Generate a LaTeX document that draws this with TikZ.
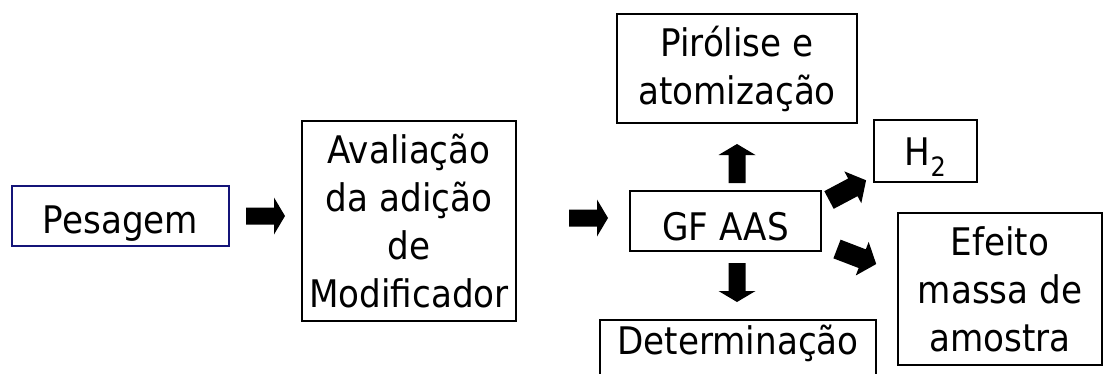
\documentclass[tikz,border=0pt]{standalone}
\usepackage{fontspec}
\setmainfont{DejaVu Sans}[FakeStretch=0.9]
\usepackage{tikz}

\definecolor{boxblue}{RGB}{20,20,120}

\tikzset{
  box/.style={draw, line width=1.3pt, inner sep=0pt, align=center},
  oneline/.style={text height=#1, text depth=0pt},
  fatarrow/.pic={\fill (0,-8.5) -- (28,-8.5) -- (28,-18.5) -- (39,0) -- (28,18.5) -- (28,8.5) -- (0,8.5) -- cycle;},
  fatarrowbig/.pic={\fill (0,-10) -- (27,-10) -- (27,-18) -- (42,0) -- (27,18) -- (27,10) -- (0,10) -- cycle;}
}

\begin{document}
\begin{tikzpicture}[x=1pt, y=-1pt, font=\fontsize{38}{48}\selectfont]
  \useasboundingbox (0,0) rectangle (1106,373);

  % Boxes
  \node[box, oneline=34pt, draw=boxblue, minimum width=217pt, minimum height=60pt] (pesagem) at (120.5,216) {Pesagem};
  \node[box, minimum width=214pt, minimum height=200pt] (avaliacao) at (409,221) {Avaliação\\da adição\\de\\Modificador};
  \node[box, oneline=38pt, minimum width=191pt, minimum height=60pt] (gfaas) at (725.5,221) {GF AAS};
  \node[box, minimum width=240pt, minimum height=109pt] (pirolise) at (737,68.5) {Pirólise e\\atomização};
  \node[box, oneline=28pt, minimum width=103pt, minimum height=62pt] (htwo) at (925.5,151) {H\textsubscript{2}};
  \node[box, minimum width=204pt, minimum height=152pt] (efeito) at (1000,289) {Efeito\\massa de\\amostra};
  % box runs off the bottom edge
  \node[box, text height=10pt, text depth=22pt, minimum width=276pt, minimum height=80pt] (determ) at (738,360) {Determinação};

  % Block arrows
  \pic at (246,216) {fatarrow};
  \pic at (569,218) {fatarrow};
  \pic[rotate=90] at (737,183) {fatarrow};
  \pic[rotate=-90] at (737,263) {fatarrow};
  \pic[rotate=28] at (829,200) {fatarrowbig};
  \pic[rotate=-21] at (837,249) {fatarrowbig};
\end{tikzpicture}
\end{document}
